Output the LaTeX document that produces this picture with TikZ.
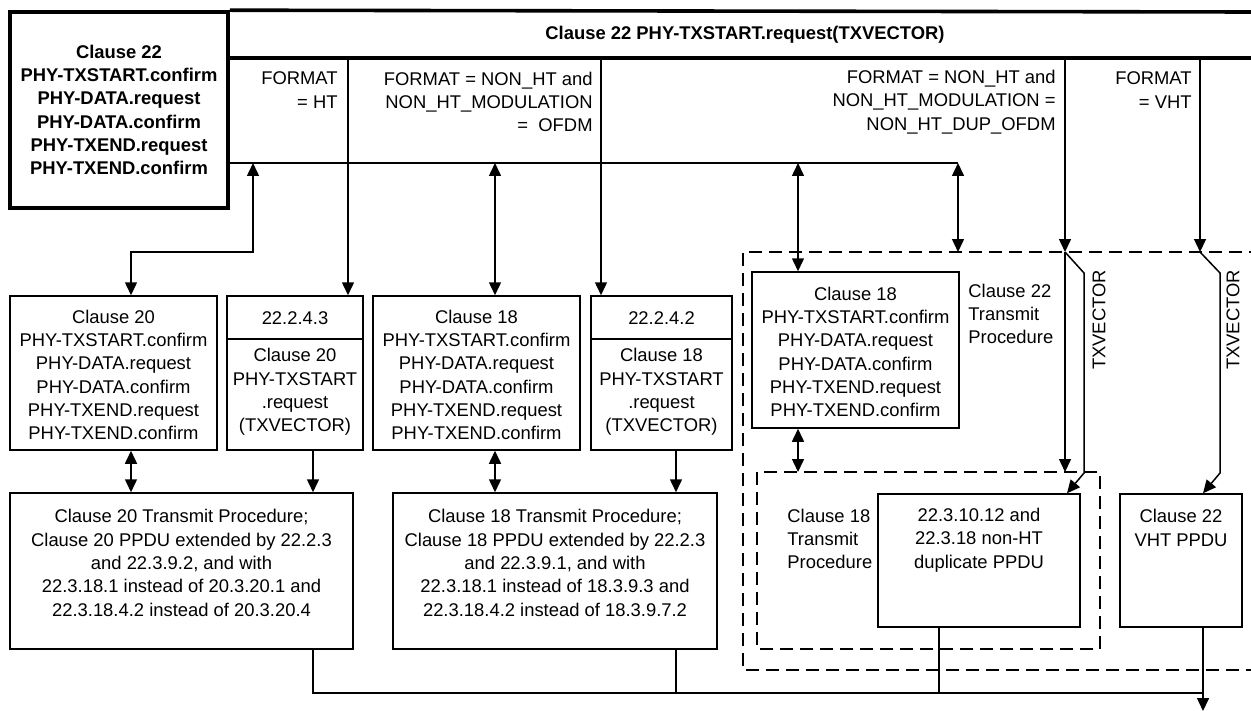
\documentclass[tikz,border=0pt]{standalone}
\usepackage{fontspec}
\setmainfont{Liberation Sans}
\usetikzlibrary{arrows.meta}
\newcommand\fs{\fontsize{9.2}{11.65}\selectfont}
\tikzset{
  thin/.style={line width=0.75pt},
  thickln/.style={line width=1.8pt},
  box/.style={draw, thin, inner sep=0pt},
  txt/.style={inner sep=0pt, align=center, font=\fs},
  dashbox/.style={line width=1.45pt, dash pattern=on 6.5pt off 3.5pt},
  tip/.tip={Triangle[length=6.5pt,width=6pt]},
  arr/.style={thin, -tip},
  darr/.style={thin, tip-tip},
}
\begin{document}
\begin{tikzpicture}[x=0.5pt,y=-0.5pt]
\useasboundingbox (0,0) rectangle (1251,711);
% column coordinates
\coordinate (x131) at (131,0);
\coordinate (x253) at (253,0);
\coordinate (x313) at (313,0);
\coordinate (x348) at (348,0);
\coordinate (x495) at (495,0);
\coordinate (x601) at (601,0);
\coordinate (x676) at (676,0);
\coordinate (x798) at (798,0);
\coordinate (x939) at (939,0);
\coordinate (x958) at (958,0);
\coordinate (x1065) at (1065,0);
\coordinate (x1067) at (1067,0);
\coordinate (x1200) at (1200,0);
\coordinate (x1203) at (1203,0);
% top-left box and bar
\node[draw, thickln, minimum width=109pt, minimum height=98pt, inner sep=0pt, align=center, font=\fs\bfseries] (mac) at (119,110)
  {Clause 22\\PHY-TXSTART.confirm\\PHY-DATA.request\\PHY-DATA.confirm\\PHY-TXEND.request\\PHY-TXEND.confirm};
\coordinate (barTR) at (1251,12);
\coordinate (barBL) at (228,58);
\coordinate (barBR) at (1251,58);
\draw[thickln] (mac.north east) -- (barTR);
\draw[thickln] (barBL) -- (barBR);
\node[txt, font=\fs\bfseries] (bar) at (745,35) {Clause 22 PHY-TXSTART.request(TXVECTOR)};
% condition labels
\node[txt, align=right, anchor=east] (lHT) at (338,90) {FORMAT\\= HT};
\node[txt, align=right, anchor=east] (lOFDM) at (593,102) {FORMAT = NON\_HT and\\NON\_HT\_MODULATION\\=\ \ OFDM};
\node[txt, align=right, anchor=east] (lDUP) at (1056,102) {FORMAT = NON\_HT and\\NON\_HT\_MODULATION =\\NON\_HT\_DUP\_OFDM};
\node[txt, align=right, anchor=east] (lVHT) at (1192,90) {FORMAT\\= VHT};
% horizontal bus
\coordinate (hL) at (228,163);
\coordinate (hR) at (958,163);
\draw[thin] (hL) -- (hR);
% row 2 boxes
\node[box, minimum width=103.5pt, minimum height=77pt] (c20) at (113.5,373) {};
\node[txt] (c20t) at (113.5,375) {Clause 20\\PHY-TXSTART.confirm\\PHY-DATA.request\\PHY-DATA.confirm\\PHY-TXEND.request\\PHY-TXEND.confirm};
\node[box, minimum width=68pt, minimum height=77pt] (b2243) at (295,373) {};
\draw[thin] (b2243.west |- 0,339) -- (b2243.east |- 0,339);
\node[txt] (b2243a) at (295,318) {22.2.4.3};
\node[txt] (b2243b) at (295,392) {Clause 20\\PHY-TXSTART\\.request\\(TXVECTOR)};
\node[box, minimum width=103.5pt, minimum height=77pt] (c18) at (476.5,373) {};
\node[txt] (c18t) at (476.5,375) {Clause 18\\PHY-TXSTART.confirm\\PHY-DATA.request\\PHY-DATA.confirm\\PHY-TXEND.request\\PHY-TXEND.confirm};
\node[box, minimum width=70.5pt, minimum height=77pt] (b2242) at (661.5,373) {};
\draw[thin] (b2242.west |- 0,339) -- (b2242.east |- 0,339);
\node[txt] (b2242a) at (661.5,318) {22.2.4.2};
\node[txt] (b2242b) at (661.5,392) {Clause 18\\PHY-TXSTART\\.request\\(TXVECTOR)};
% dashed groups
\coordinate (oNE) at (1262,252);
\coordinate (oNW) at (743,252);
\coordinate (oSW) at (743,670);
\coordinate (oSE) at (1262,670);
\draw[dashbox] (oNE) -- (oNW) -- (oSW) -- (oSE);
\coordinate (iNW) at (757,472);
\coordinate (iSE) at (1100,649);
\draw[dashbox] (iNW) rectangle (iSE);
\node[box, minimum width=103.5pt, minimum height=78pt] (c18b) at (855.5,350) {};
\node[txt] (c18bt) at (855.5,352) {Clause 18\\PHY-TXSTART.confirm\\PHY-DATA.request\\PHY-DATA.confirm\\PHY-TXEND.request\\PHY-TXEND.confirm};
\node[txt, align=left, anchor=west] (c22tp) at (968,314) {Clause 22\\Transmit\\Procedure};
\node[txt, align=left, anchor=west] (c18tp) at (787,539) {Clause 18\\Transmit\\Procedure};
\node[box, minimum width=101pt, minimum height=66.5pt] (b2231) at (979,560.5) {};
\node[txt] (b2231t) at (979,540) {22.3.10.12 and\\22.3.18 non-HT\\duplicate PPDU};
\node[box, minimum width=61pt, minimum height=66.5pt] (vht) at (1181,560.5) {};
\node[txt] (vhtt) at (1181,528) {Clause 22\\VHT PPDU};
\node[txt, rotate=90] (tv1) at (1099,320) {TXVECTOR};
\node[txt, rotate=90] (tv2) at (1233,320) {TXVECTOR};
% row 3 boxes
\node[box, minimum width=171.5pt, minimum height=78pt] (ct20) at (181.5,571) {};
\node[txt] (ct20t) at (181.5,563) {Clause 20 Transmit Procedure;\\Clause 20 PPDU extended by 22.2.3\\and 22.3.9.2, and with\\22.3.18.1 instead of 20.3.20.1 and\\22.3.18.4.2 instead of 20.3.20.4};
\node[box, minimum width=162pt, minimum height=78pt] (ct18) at (555,571) {};
\node[txt] (ct18t) at (555,563) {Clause 18 Transmit Procedure;\\Clause 18 PPDU extended by 22.2.3\\and 22.3.9.1, and with\\22.3.18.1 instead of 18.3.9.3 and\\22.3.18.4.2 instead of 18.3.9.7.2};
% connectors from bus and bar
\coordinate (k1) at (131,252);
\draw[darr] (hL -| x253) |- (k1) -- (c20.north -| x131);
\draw[arr] (barBL -| x348) -- (b2243.north -| x348);
\draw[darr] (hL -| x495) -- (c18.north -| x495);
\draw[arr] (barBL -| x601) -- (b2242.north -| x601);
\draw[darr] (hL -| x798) -- (c18b.north -| x798);
\draw[darr] (hR) -- (oNW -| x958);
\draw[arr] (barBL -| x1065) -- (oNW -| x1065);
\draw[arr] (oNW -| x1065) -- (iNW -| x1065);
\coordinate (d1a) at (1084,273);
\coordinate (d1b) at (1084,473);
\draw[arr] (oNW -| x1065) -- (d1a) -- (d1b) -- (b2231.north -| x1067);
\draw[arr] (barBL -| x1200) -- (oNW -| x1200);
\coordinate (d2a) at (1220,273);
\coordinate (d2b) at (1220,473);
\draw[arr] (oNW -| x1200) -- (d2a) -- (d2b) -- (vht.north -| x1203);
% row 2 -> row 3
\draw[darr] (c20.south -| x131) -- (ct20.north -| x131);
\draw[arr] (b2243.south -| x313) -- (ct20.north -| x313);
\draw[darr] (c18.south -| x495) -- (ct18.north -| x495);
\draw[arr] (b2242.south -| x676) -- (ct18.north -| x676);
\draw[darr] (c18b.south -| x798) -- (iNW -| x798);
% outputs
\coordinate (outB) at (1203,693);
\coordinate (outE) at (1203,711);
\draw[thin] (ct20.south -| x313) |- (outB);
\draw[thin] (ct18.south -| x676) -- (outB -| x676);
\draw[thin] (b2231.south -| x939) -- (outB -| x939);
\draw[arr] (vht.south -| x1203) -- (outE);
\end{tikzpicture}
\end{document}
